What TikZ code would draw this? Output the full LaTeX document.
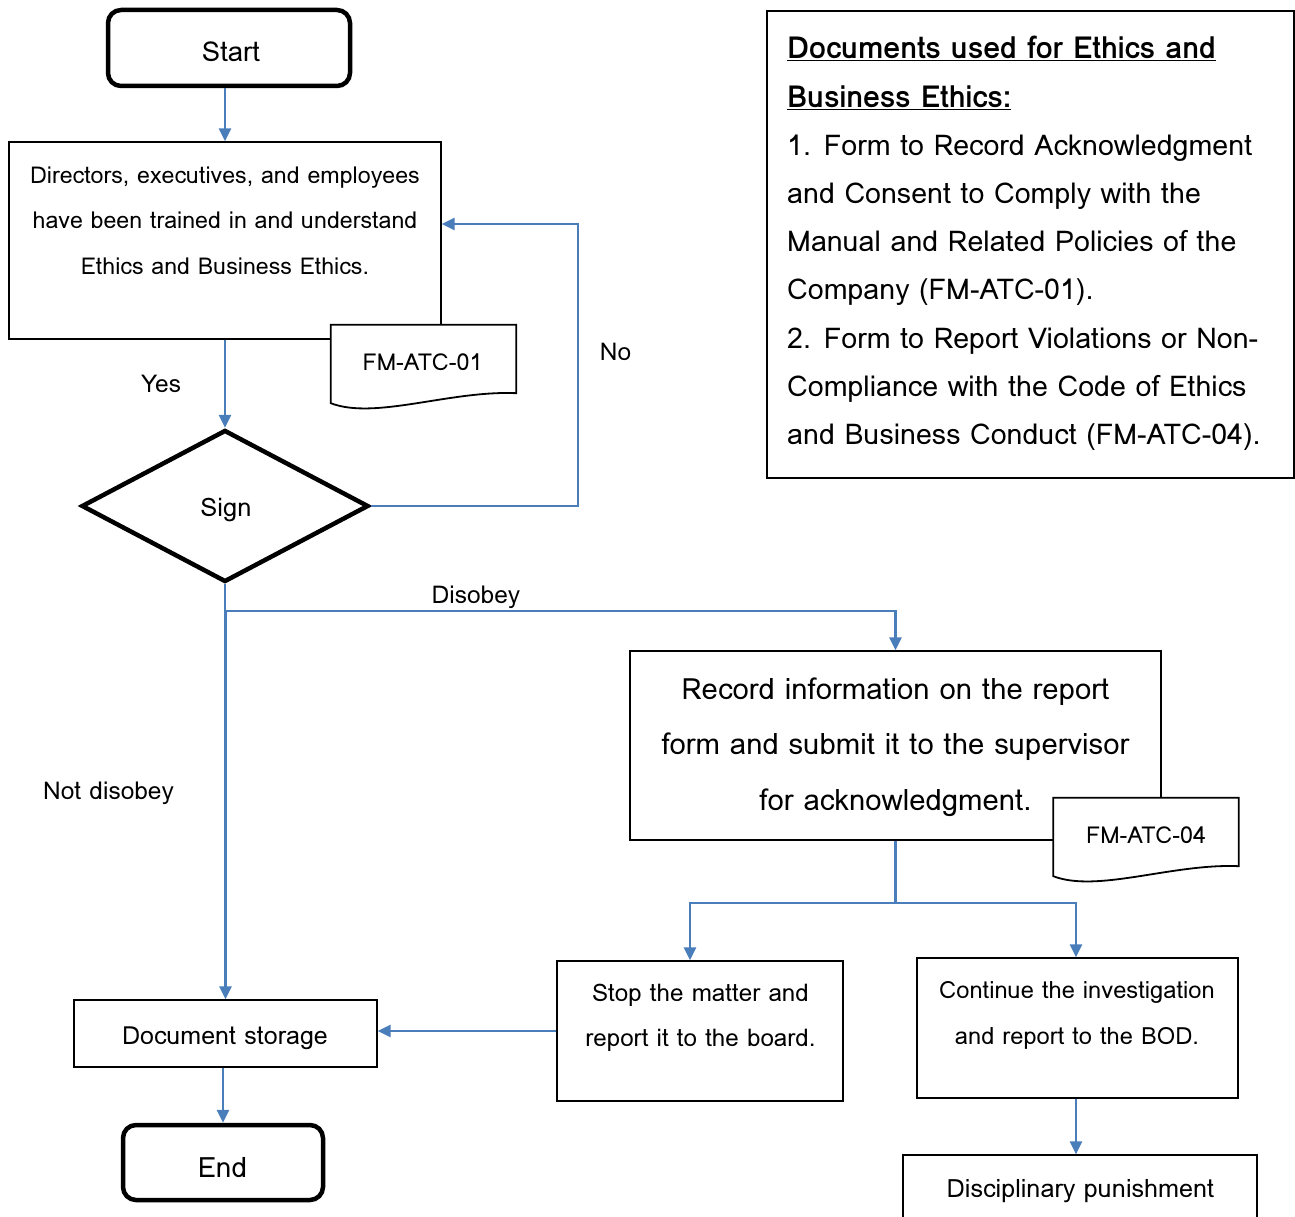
\documentclass[tikz,border=0pt]{standalone}
\usepackage{fontspec}
\setmainfont{Loma}
\usetikzlibrary{arrows.meta,calc,shapes.geometric}
\definecolor{flowblue}{HTML}{4A7EBB}
\tikzset{
	flowline/.style={draw=flowblue, line width=2.6pt},
	flowarrow/.style={flowline, -{Triangle[length=13pt,width=12pt]}},
	procbox/.style={draw, line width=1.2pt, inner sep=0pt, fill=white},
	termbox/.style={draw, line width=4.5pt, rounded corners=13pt, inner sep=0pt},
	decision/.style={draw, diamond, line width=4.5pt, inner sep=0pt, minimum width=287pt, minimum height=152pt},
	boxtext/.style={align=center, inner sep=0pt, font=\fontsize{#1}{45.5}\selectfont},
	boxtext/.default=23.5,
	labeltext/.style={inner sep=0pt, font=\fontsize{24.5}{28}\selectfont},
	termtext/.style={inner sep=0pt, font=\fontsize{#1}{30}\selectfont},
	formdoc/.style={inner sep=0pt, minimum width=185pt, minimum height=76pt, font=\fontsize{23.3}{26}\selectfont}
}
% document symbol round a named node
\def\docpath(#1){(#1.north west) -- (#1.north east) -- ([yshift=8pt]#1.south east) .. controls +(-66,-3) and +(44,17) .. ([yshift=-2pt]#1.south west) -- cycle}

\begin{document}
\begin{tikzpicture}[x=1pt, y=-1pt]
		%%%%% START %%%%%
		\useasboundingbox (0, 0) rectangle (1295, 1217);
		
		\node[termbox, minimum width=242pt, minimum height=76pt] (start) at (229, 48) {};
		\node[termtext=27.5] (starttext) at (231, 52) {Start};
		
		\node[procbox, minimum width=432pt, minimum height=197pt] (trained) at (225, 240.5) {};
		\node[boxtext=23.2] (trainedtext) at (225, 220.5) {Directors, executives, and employees\\have been trained in and understand\\Ethics and Business Ethics.};
		
		\node[formdoc] (form01) at (423.5, 363) {};
		\fill[black!30] [xshift=3pt, yshift=-3pt] \docpath(form01);
		\draw[line width=1.8pt, fill=white] \docpath(form01);
		\node[formdoc] (form01text) at (422.5, 362) {FM-ATC-01};
		
		\node[decision] (sign) at (225, 506) {};
		\node[termtext=25.5] (signtext) at (226, 510) {Sign};
		
		\node[procbox, minimum width=531pt, minimum height=189pt] (record) at (895.5, 745.5) {};
		\node[align=center, inner sep=0pt, font=\fontsize{29.3}{55.5}\selectfont] (recordtext) at (895.5, 747) {Record information on the report\\form and submit it to the supervisor\\for acknowledgment.};
		
		\node[formdoc] (form04) at (1146, 836) {};
		\fill[black!30] [xshift=3pt, yshift=-3pt] \docpath(form04);
		\draw[line width=1.8pt, fill=white] \docpath(form04);
		\node[formdoc] (form04text) at (1146, 835) {FM-ATC-04};
		
		\node[procbox, minimum width=286pt, minimum height=140pt] (stopbox) at (700, 1031) {};
		\node[boxtext=24.2] (stoptext) at (700.5, 1018) {Stop the matter and\\report it to the board.};
		
		\node[procbox, minimum width=321pt, minimum height=140pt] (contbox) at (1077.5, 1028) {};
		\node[boxtext=23.7] (conttext) at (1077, 1015.5) {Continue the investigation\\and report to the BOD.};
		
		\node[procbox, minimum width=354pt, minimum height=70pt] (punish) at (1080, 1190) {};
		\node[boxtext=25.2] (punishtext) at (1080.5, 1191) {Disciplinary punishment};
		
		\node[procbox, minimum width=303pt, minimum height=67pt] (storage) at (225.5, 1033.5) {};
		\node[boxtext=25] (storagetext) at (225, 1038) {Document storage};
		
		\node[termbox, minimum width=200pt, minimum height=75pt] (finish) at (223, 1162.5) {};
		\node[termtext=28] (finishtext) at (222.5, 1168) {End};
		
		\node[procbox, minimum width=527pt, minimum height=467pt] (docs) at (1030.5, 244.5) {};
		\node[align=left, anchor=west, inner sep=0pt, font=\fontsize{28.6}{48.2}\selectfont] (docstext) at (787, 243.5)
			{{\fontsize{30.4}{48.2}\selectfont\underline{\textbf{Documents used for Ethics and}}}\\{\fontsize{30.4}{48.2}\selectfont\underline{\textbf{Business Ethics:}}}\\1. Form to Record Acknowledgment\\and Consent to Comply with the\\Manual and Related Policies of the\\Company (FM-ATC-01).\\2. Form to Report Violations or Non-\\Compliance with the Code of Ethics\\and Business Conduct (FM-ATC-04).};
		
		\coordinate (split) at (225, 611);
		\coordinate (fork) at (895.5, 903);
		
		\draw[flowarrow] (start.south -| trained.north) -- (trained.north);
		\draw[flowarrow] (trained.south) -- (sign.north);
		\draw[flowarrow] (sign.east) -- (578, 506) |- ([yshift=16.5pt]trained.east);
		\draw[flowline] (sign.south) -- (split);
		\draw[flowarrow] (split) -| (record.north);
		\draw[flowarrow] (split) -- (split -| storage.north) -- (storage.north);
		\draw[flowline] (record.south) -- (fork);
		\draw[flowarrow] (fork) -| ([xshift=-10pt]stopbox.north);
		\draw[flowarrow] (fork) -| ([xshift=-1.5pt]contbox.north);
		\draw[flowarrow] (stopbox.west) -- (stopbox.west -| storage.east);
		\draw[flowarrow] (storage.south -| finish.north) -- (finish.north);
		\draw[flowarrow] ([xshift=-1.5pt]contbox.south) -- ([xshift=-1.5pt]contbox.south |- punish.north);
		
		\node[labeltext] (lblyes) at (161, 384) {Yes};
		\node[labeltext] (lblno) at (615.5, 352) {No};
		\node[labeltext] (lbldisobey) at (476, 597) {Disobey};
		\node[labeltext] (lblnot) at (108.5, 793) {Not disobey};
		
		%%%%% END %%%%%
	\end{tikzpicture}
\end{document}
